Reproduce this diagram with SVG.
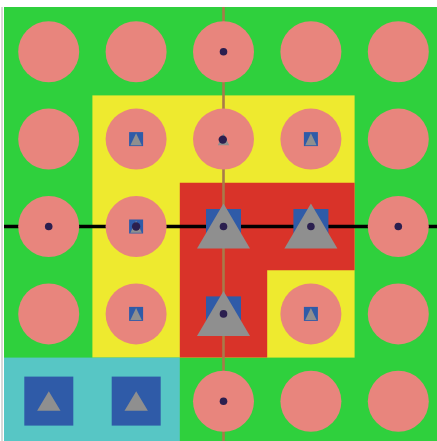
<svg xmlns="http://www.w3.org/2000/svg" width="437" height="441" viewBox="0 0 437 441">
<defs>
<style>
.green{fill:#2fd03d}
.yellow{fill:#eeea2f}
.red{fill:#d93329}
.cyan{fill:#57c6c5}
.c{fill:#e8857d}
.sq{fill:#2f5ba8}
.tri{fill:#8f8f8f}
.dot{fill:#2b1f4f}
.hline{stroke:#000;stroke-width:3.5}
.vline{stroke:#a87a4a;stroke-width:2.6}
</style>
</defs>
<rect width="437" height="441" fill="#ffffff"/>
<rect x="1" y="7" width="2" height="434" fill="#d9d9d9"/>
<g id="regions">
<rect class="green" x="4" y="7" width="433" height="434"/>
<rect class="yellow" x="92.4" y="95.4" width="262.2" height="262.2"/>
<path class="red" d="M179.8 182.8 H354.6 V270.2 H267.2 V357.6 H179.8 Z"/>
<rect class="cyan" x="4" y="357.6" width="175.8" height="83.4"/>
</g>
<g id="connectors">
<line class="hline" x1="4" y1="226.5" x2="437" y2="226.5"/>
<line class="vline" x1="223.5" y1="7" x2="223.5" y2="441"/>
</g>
<g id="n00"><circle class="c" cx="48.7" cy="51.7" r="30.5"/></g>
<g id="n01"><circle class="c" cx="136.1" cy="51.7" r="30.5"/></g>
<g id="n02"><circle class="c" cx="223.5" cy="51.7" r="30.5"/><circle class="dot" cx="223.5" cy="51.7" r="3.8"/></g>
<g id="n03"><circle class="c" cx="310.9" cy="51.7" r="30.5"/></g>
<g id="n04"><circle class="c" cx="398.3" cy="51.7" r="30.5"/></g>

<g id="n10"><circle class="c" cx="48.7" cy="139.1" r="30.5"/></g>
<g id="n11"><circle class="c" cx="136.1" cy="139.1" r="30.5"/><rect class="sq" x="129.1" y="132.1" width="14" height="14"/><path class="tri" d="M136.1 133.3 L141.8 145.3 L130.4 145.3 Z"/></g>
<g id="n12"><circle class="c" cx="223.5" cy="139.1" r="30.5"/><path class="tri" d="M223.5 133.3 L229.2 145.3 L217.8 145.3 Z"/><circle class="dot" cx="222.8" cy="139.6" r="4.2"/></g>
<g id="n13"><circle class="c" cx="310.9" cy="139.1" r="30.5"/><rect class="sq" x="303.9" y="132.1" width="14" height="14"/><path class="tri" d="M310.9 133.3 L316.6 145.3 L305.2 145.3 Z"/></g>
<g id="n14"><circle class="c" cx="398.3" cy="139.1" r="30.5"/></g>

<g id="n20"><circle class="c" cx="48.7" cy="226.5" r="30.5"/><circle class="dot" cx="48.7" cy="226.5" r="3.8"/></g>
<g id="n21"><circle class="c" cx="136.1" cy="226.5" r="30.5"/><rect class="sq" x="129.1" y="219.5" width="14" height="14"/><path class="tri" d="M136.1 220.7 L141.8 232.7 L130.4 232.7 Z"/><circle class="dot" cx="136.1" cy="226.5" r="4.2"/></g>
<g id="n22"><rect class="sq" x="206" y="209" width="35" height="35"/><path class="tri" d="M223.5 203.5 L250 248.5 L197 248.5 Z"/><circle class="dot" cx="223.5" cy="226.5" r="3.8"/></g>
<g id="n23"><rect class="sq" x="293.4" y="209" width="35" height="35"/><path class="tri" d="M310.9 203.5 L337.4 248.5 L284.4 248.5 Z"/><circle class="dot" cx="310.9" cy="226.5" r="3.8"/></g>
<g id="n24"><circle class="c" cx="398.3" cy="226.5" r="30.5"/><circle class="dot" cx="398.3" cy="226.5" r="3.8"/></g>

<g id="n30"><circle class="c" cx="48.7" cy="313.9" r="30.5"/></g>
<g id="n31"><circle class="c" cx="136.1" cy="313.9" r="30.5"/><rect class="sq" x="129.1" y="306.9" width="14" height="14"/><path class="tri" d="M136.1 308.1 L141.8 320.1 L130.4 320.1 Z"/></g>
<g id="n32"><rect class="sq" x="206" y="296.4" width="35" height="35"/><path class="tri" d="M223.5 290.9 L250 335.9 L197 335.9 Z"/><circle class="dot" cx="223.5" cy="313.9" r="3.8"/></g>
<g id="n33"><circle class="c" cx="310.9" cy="313.9" r="30.5"/><rect class="sq" x="303.9" y="306.9" width="14" height="14"/><path class="tri" d="M310.9 308.1 L316.6 320.1 L305.2 320.1 Z"/></g>
<g id="n34"><circle class="c" cx="398.3" cy="313.9" r="30.5"/></g>

<g id="n40"><rect class="sq" x="24.3" y="376.6" width="49" height="49"/><path class="tri" d="M48.8 391.3 L60.5 410.7 L37.1 410.7 Z"/></g>
<g id="n41"><rect class="sq" x="111.7" y="376.6" width="49" height="49"/><path class="tri" d="M136.2 391.3 L147.9 410.7 L124.5 410.7 Z"/></g>
<g id="n42"><circle class="c" cx="223.5" cy="401.3" r="30.5"/><circle class="dot" cx="223.5" cy="401.3" r="3.8"/></g>
<g id="n43"><circle class="c" cx="310.9" cy="401.3" r="30.5"/></g>
<g id="n44"><circle class="c" cx="398.3" cy="401.3" r="30.5"/></g>
</svg>
